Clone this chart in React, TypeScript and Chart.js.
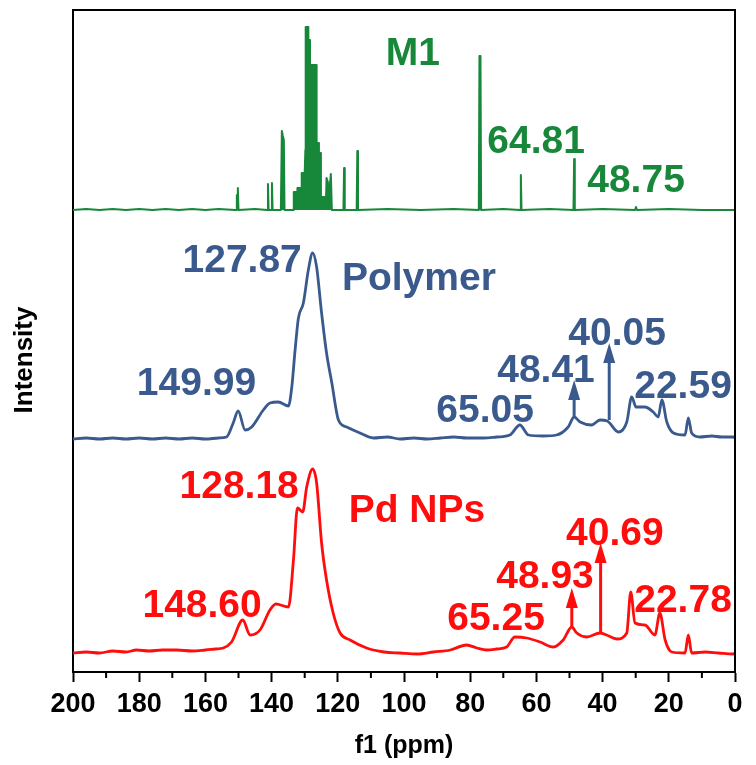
import React, { useEffect, useRef } from 'react';
import { Chart, registerables } from 'chart.js';

Chart.register(...registerables);

const FONT = "'Liberation Sans', Arial, Helvetica, sans-serif";

// Axis
const X_TICKS = [200, 180, 160, 140, 120, 100, 80, 60, 40, 20, 0];
const X_MINOR_TICKS = [190, 170, 150, 130, 110, 90, 70, 50, 30, 10];
const Y_MAX = 662;

// Stack offsets (intensity units)
const M1_OFFSET = 462;
const POLYMER_OFFSET = 234;
const PD_OFFSET = 18;

// M1 (solution 13C NMR, stick spectrum)
const M1_PPM = [200, 196, 192, 188, 184, 180, 176, 172, 168, 164, 160, 156, 151,
  150.6, 150.5, 150.35, 150.2, 150.0,
  145, 141.3, 141.1, 140.9, 140.1, 139.9, 139.7,
  137.2, 136.9, 136.6, 136.3, 136.1,
  133.5, 133.3, 132.3, 132.2, 131.0, 130.9, 130.0, 129.8, 129.7, 129.0, 128.9, 128.5, 128.4, 126.5, 126.4, 125.8, 125.7, 125.2, 125.1, 123.7, 123.6, 123.4, 123.0, 122.7, 122.4, 122.1, 121.8,
  118.3, 118.1, 117.9, 114.3, 114.1, 113.9,
  105, 95, 85, 77.4, 77.2, 76.9, 76.7, 70, 64.9, 64.7, 64.5, 56, 48.8, 48.6, 48.4, 40, 30.2, 29.9, 29.6, 20, 10, 0];
const M1_INT = [0, 1, 0, 1, 0, 1, 0, 1, 0, 1, 0, 1, 0,
  0, 15, 13, 22, 0,
  1, 0, 26, 0, 0, 27, 0,
  0, 79, 74, 70, 0,
  0, 18, 18, 22, 22, 37, 37, 60, 183, 183, 170, 170, 145, 145, 67, 67, 57, 57, 13, 13, 5, 32, 28, 8, 25, 36, 0,
  0, 42, 0, 0, 59, 0,
  1, 0, 1, 0, 154, 154, 0, 1, 0, 35, 0, 1, 0, 51, 0, 1, 0, 3, 0, 1, 0, 0];

// Polymer (solid state)
const POLYMER_PPM = [200, 196, 192, 188, 184, 180, 176, 172, 168, 164, 160, 156, 153.6, 151.6, 150.1, 148.0, 146.0, 142.5, 140.5, 138.0, 134.9, 133.9, 132.9, 131.9, 130.4, 128.9, 127.6, 126.4, 124.9, 123.4, 121.8, 119.8, 117.3, 113.3, 109.3, 105, 101.2, 97, 93, 89, 85, 81, 76.0, 72, 68.0, 65.0, 62.4, 58, 53.9, 50.4, 48.6, 46.8, 43.3, 40.8, 38.6, 35.2, 32.7, 31.2, 29.9, 27.2, 24.7, 23.2, 22.1, 20.6, 18.6, 15.1, 14.1, 13.1, 10.6, 7, 4, 0.5, 0];
const POLYMER_INT = [-1, 0, -1, 0, -1, 0, -1, 0, -1, 0, -1, 0, 1, 15, 27, 8, 11, 28, 35, 36, 32, 51, 88, 120, 135, 168, 185, 171, 125, 85, 55, 18, 11, 5, 0, 1, -1, 0, -1, 0, 1, 0, 0, 1, 3, 13, 3, 2, 3, 11, 21, 16, 13, 18, 17, 6, 16, 41, 31, 31, 26, 21, 38, 16, 5, 3, 20, 5, 1, 2, 1, 1, 0];

// Pd NPs (solid state)
const PD_PPM = [200, 196, 192, 188, 184, 180.8, 177, 173, 168.7, 164, 160, 157, 154.6, 152.1, 148.7, 146.5, 143.5, 140.5, 138.7, 134.9, 133.4, 132.2, 130.6, 129.4, 127.6, 126.4, 124.9, 123.4, 121.4, 119.3, 116.3, 111.3, 106, 101.2, 96, 91.1, 86, 81.1, 78, 75.0, 72, 69.0, 66.5, 62.9, 58.9, 54.9, 51.9, 49.3, 47.8, 44.8, 40.8, 38.8, 35.7, 32.7, 31.5, 30.2, 27.2, 24.2, 22.7, 21.1, 19.1, 15.1, 14.1, 13.1, 9, 5, 0.5, 0];
const PD_INT = [1, 2, 1, 3, 2, 4, 3, 4, 4, 3, 4, 5, 6, 12, 34, 19, 24, 44, 50, 47, 94, 146, 142, 167, 185, 171, 111, 74, 41, 21, 14, 6, 2, 1, 0, 2, 4, 9, 6, 4, 5, 7, 17, 16, 12, 7, 14, 27, 21, 17, 21, 19, 15, 21, 62, 31, 29, 19, 41, 14, 2, 1, 19, 1, 2, 1, 0, 1];

// Annotations: text, ppm (centre), intensity of text baseline (relative to series baseline)
const M1_LABELS = [
  { text: 'M1', ppm: 97.3, y: 145 },
  { text: '64.81', ppm: 60.1, y: 57 },
  { text: '48.75', ppm: 29.9, y: 18 },
];
const POLYMER_LABELS = [
  { text: '127.87', ppm: 148.9, y: 166 },
  { text: 'Polymer', ppm: 95.5, y: 148 },
  { text: '149.99', ppm: 162.7, y: 43 },
  { text: '65.05', ppm: 75.5, y: 16 },
  { text: '48.41', ppm: 57.1, y: 56 },
  { text: '40.05', ppm: 35.6, y: 93 },
  { text: '22.59', ppm: 15.7, y: 40 },
];
const PD_LABELS = [
  { text: '128.18', ppm: 149.8, y: 156 },
  { text: 'Pd NPs', ppm: 96.1, y: 132 },
  { text: '148.60', ppm: 161.0, y: 37 },
  { text: '65.25', ppm: 72.2, y: 24 },
  { text: '48.93', ppm: 57.4, y: 66 },
  { text: '40.69', ppm: 36.3, y: 109 },
  { text: '22.78', ppm: 15.7, y: 42 },
];
// Arrows: ppm, base intensity, tip intensity (relative)
const POLYMER_ARROWS = [
  { ppm: 48.6, from: 21, to: 58 },
  { ppm: 38.0, from: 18, to: 95 },
];
const PD_ARROWS = [
  { ppm: 49.3, from: 27, to: 66 },
  { ppm: 40.6, from: 21, to: 111 },
];

const GREEN = '#17873a';
const BLUE = '#3a5a8e';
const RED = '#ff0d0d';

const SERIES = [
  { name: 'M1', ppm: M1_PPM, int: M1_INT, offset: M1_OFFSET, color: GREEN, width: 2, fill: true, smooth: false, labels: M1_LABELS, arrows: [] as any[] },
  { name: 'Polymer', ppm: POLYMER_PPM, int: POLYMER_INT, offset: POLYMER_OFFSET, color: BLUE, width: 2.8, fill: false, smooth: true, labels: POLYMER_LABELS, arrows: POLYMER_ARROWS },
  { name: 'Pd NPs', ppm: PD_PPM, int: PD_INT, offset: PD_OFFSET, color: RED, width: 2.8, fill: false, smooth: true, labels: PD_LABELS, arrows: PD_ARROWS },
];

const overlay = {
  id: 'overlay',
  afterDraw(chart: any) {
    const { ctx, chartArea: a } = chart;
    const xs = chart.scales.x;
    const ys = chart.scales.y;
    ctx.save();
    // frame top & right
    ctx.strokeStyle = '#000';
    ctx.lineWidth = 2;
    ctx.beginPath();
    ctx.moveTo(a.left - 1, a.top);
    ctx.lineTo(a.right, a.top);
    ctx.lineTo(a.right, a.bottom + 1);
    ctx.stroke();
    // minor ticks
    ctx.beginPath();
    X_MINOR_TICKS.forEach((v) => {
      const px = xs.getPixelForValue(v);
      ctx.moveTo(px, a.bottom);
      ctx.lineTo(px, a.bottom + 6);
    });
    ctx.stroke();
    // arrows
    SERIES.forEach((s) => {
      s.arrows.forEach((ar: any) => {
        const px = xs.getPixelForValue(ar.ppm);
        const yb = ys.getPixelForValue(s.offset + ar.from);
        const yt = ys.getPixelForValue(s.offset + ar.to);
        const head = 20;
        ctx.strokeStyle = s.color;
        ctx.fillStyle = s.color;
        ctx.lineWidth = 3;
        ctx.beginPath();
        ctx.moveTo(px, yb);
        ctx.lineTo(px, yt + head - 2);
        ctx.stroke();
        ctx.beginPath();
        ctx.moveTo(px, yt);
        ctx.lineTo(px - 6, yt + head);
        ctx.lineTo(px + 6, yt + head);
        ctx.closePath();
        ctx.fill();
      });
    });
    // labels
    ctx.textAlign = 'center';
    ctx.textBaseline = 'alphabetic';
    ctx.font = `bold 39px ${FONT}`;
    SERIES.forEach((s) => {
      ctx.fillStyle = s.color;
      s.labels.forEach((l) => {
        ctx.fillText(l.text, xs.getPixelForValue(l.ppm), ys.getPixelForValue(s.offset + l.y));
      });
    });
    // y title
    ctx.fillStyle = '#000';
    ctx.font = `bold 26px ${FONT}`;
    ctx.translate(25, 360);
    ctx.rotate(-Math.PI / 2);
    ctx.textBaseline = 'middle';
    ctx.fillText('Intensity', 0, 0);
    ctx.restore();
  },
};

export default function App() {
  const ref = useRef<HTMLCanvasElement | null>(null);
  useEffect(() => {
    if (!ref.current) return;
    const chart = new Chart(ref.current, {
      type: 'line',
      data: {
        datasets: SERIES.map((s) => ({
          label: s.name,
          data: s.ppm.map((p, i) => ({ x: p, y: s.offset + s.int[i] })),
          borderColor: s.color,
          backgroundColor: s.color,
          borderWidth: s.width,
          pointRadius: 0,
          tension: s.smooth ? 0.4 : 0,
          cubicInterpolationMode: s.smooth ? 'monotone' : 'default',
          borderJoinStyle: 'round',
          fill: s.fill ? { value: s.offset } : false,
        })),
      },
      options: {
        responsive: false,
        animation: false,
        devicePixelRatio: 1,
        layout: { padding: { top: 10, right: 21, left: 0, bottom: 0 } },
        plugins: { legend: { display: false }, tooltip: { enabled: false } },
        scales: {
          x: {
            type: 'linear',
            min: 0,
            max: 200,
            reverse: true,
            afterBuildTicks: (scale: any) => {
              scale.ticks = X_TICKS.map((v) => ({ value: v }));
            },
            afterFit: (scale: any) => {
              scale.height = 93;
            },
            ticks: {
              color: '#000',
              font: { family: FONT, size: 27, weight: 'bold' },
              padding: 6,
              maxRotation: 0,
              autoSkip: false,
            },
            grid: {
              display: true,
              drawOnChartArea: false,
              drawTicks: true,
              tickLength: 10,
              tickWidth: 2,
              tickColor: '#000',
            },
            border: { display: true, color: '#000', width: 2 },
            title: {
              display: true,
              text: 'f1 (ppm)',
              color: '#000',
              font: { family: FONT, size: 25, weight: 'bold' },
              padding: { top: 0, bottom: 4 },
            },
          },
          y: {
            type: 'linear',
            min: 0,
            max: Y_MAX,
            afterFit: (scale: any) => {
              scale.width = 73;
            },
            ticks: { display: false },
            grid: { display: false },
            border: { display: true, color: '#000', width: 2 },
          },
        },
      },
      plugins: [overlay],
    } as any);
    return () => chart.destroy();
  }, []);
  return (
    <div style={{ position: 'absolute', left: 0, top: 0, width: 756, height: 765, background: '#fff' }}>
      <canvas ref={ref} width={756} height={765} style={{ display: 'block' }} />
    </div>
  );
}
